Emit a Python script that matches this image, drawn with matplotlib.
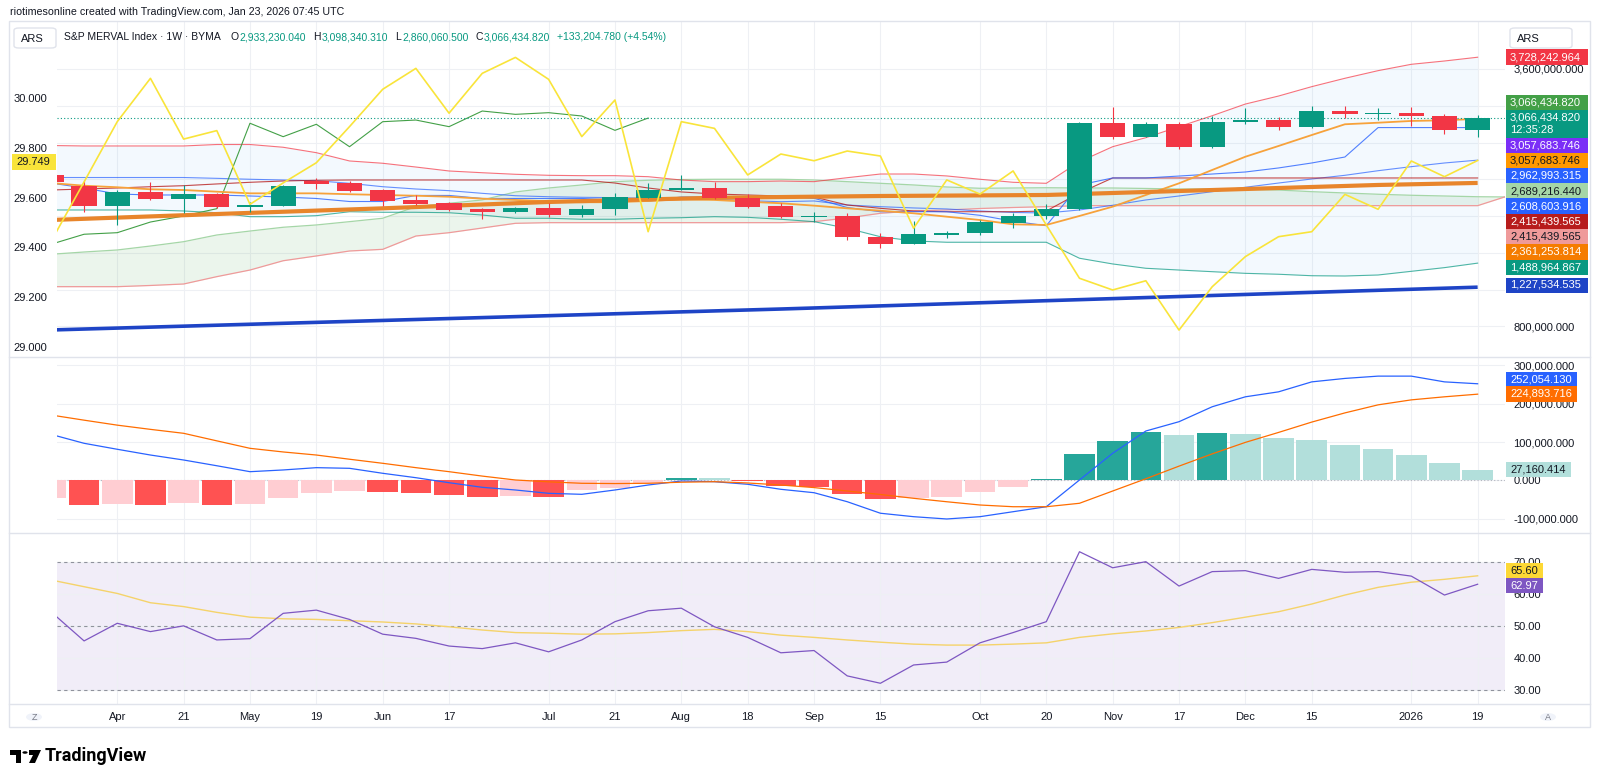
import numpy as np
import matplotlib
matplotlib.use("Agg")
import matplotlib.pyplot as plt
from matplotlib.patches import Rectangle, Polygon, Circle, FancyBboxPatch
from matplotlib.lines import Line2D

W, H = 1600, 783
NARROW = ["Liberation Sans Narrow", "Liberation Sans", "DejaVu Sans"]
plt.rcParams["font.family"] = NARROW
INK = "#131722"
GRID = "#eef0f4"
UP, DOWN = "#089981", "#f23645"

# weekly bars, index 0 = week of 24 Mar 2025 ... index 43 = week of 19 Jan 2026
TIME_TICKS = [2, 4, 6, 8, 10, 12, 15, 17, 19, 21, 23, 25, 28, 30, 32, 34, 36, 38, 41, 43]
TIME_LABELS = ["Apr", "21", "May", "19", "Jun", "17", "Jul", "21", "Aug", "18",
               "Sep", "15", "Oct", "20", "Nov", "17", "Dec", "15", "2026", "19"]

# S&P MERVAL weekly candles, millions of ARS
OPEN = [2.447, 2.331, 2.114, 2.259, 2.186, 2.241, 2.103, 2.114, 2.382, 2.357,
        2.288, 2.172, 2.143, 2.074, 2.048, 2.092, 2.009, 2.078, 2.201, 2.281,
        2.306, 2.201, 2.114, 1.994, 2.005, 1.770, 1.700, 1.798, 1.813, 1.922,
        2.002, 2.074, 3.010, 2.864, 2.999, 2.755, 3.024, 3.045, 2.973, 3.143,
        3.111, 3.125, 3.092, 2.93323]
HIGH = [2.480, 2.393, 2.284, 2.375, 2.339, 2.252, 2.154, 2.339, 2.415, 2.382,
        2.295, 2.230, 2.154, 2.089, 2.103, 2.140, 2.121, 2.248, 2.357, 2.447,
        2.368, 2.241, 2.143, 2.042, 2.034, 1.820, 1.947, 1.838, 1.958, 2.034,
        2.129, 3.027, 3.184, 3.020, 3.027, 3.089, 3.179, 3.078, 3.198, 3.198,
        3.173, 3.190, 3.111, 3.09834]
LOW = [2.339, 2.048, 1.904, 2.176, 2.034, 2.089, 2.045, 2.110, 2.295, 2.263,
       2.114, 2.121, 2.056, 1.969, 2.031, 1.991, 1.994, 2.012, 2.194, 2.281,
       2.186, 2.089, 1.980, 1.940, 1.741, 1.650, 1.700, 1.759, 1.795, 1.868,
       1.969, 2.070, 2.836, 2.857, 2.730, 2.738, 2.999, 2.937, 2.962, 3.067,
       3.045, 2.983, 2.890, 2.86006]
CLOSE = [2.375, 2.114, 2.259, 2.186, 2.238, 2.103, 2.121, 2.328, 2.350, 2.277,
         2.165, 2.132, 2.067, 2.048, 2.092, 2.009, 2.081, 2.211, 2.284, 2.306,
         2.194, 2.103, 1.994, 2.005, 1.770, 1.694, 1.803, 1.820, 1.936, 2.002,
         2.081, 3.010, 2.864, 2.999, 2.755, 3.027, 3.045, 2.973, 3.143, 3.107,
         3.125, 3.089, 2.933, 3.066435]
LAG_SHIFT = 25

# Bollinger bands (millions)
BB_UPPER = [2.768, 2.763, 2.763, 2.763, 2.763, 2.779, 2.779, 2.749, 2.690, 2.600,
            2.575, 2.534, 2.491, 2.472, 2.455, 2.444, 2.440, 2.440, 2.429, 2.393,
            2.375, 2.375, 2.382, 2.375, 2.418, 2.458, 2.458, 2.437, 2.401, 2.368,
            2.357, 2.592, 2.755, 2.853, 2.973, 3.092, 3.219, 3.306, 3.408, 3.499,
            3.582, 3.651, 3.687, 3.728]
BB_BASIS = [2.420, 2.420, 2.420, 2.420, 2.420, 2.411, 2.401, 2.393, 2.385, 2.357,
            2.320, 2.295, 2.277, 2.248, 2.222, 2.211, 2.205, 2.201, 2.194, 2.201,
            2.183, 2.168, 2.157, 2.165, 2.121, 2.103, 2.089, 2.078, 2.056, 2.040,
            2.034, 2.067, 2.118, 2.176, 2.219, 2.266, 2.314, 2.360, 2.404, 2.444,
            2.494, 2.538, 2.578, 2.609]
BB_LOWER = [2.067, 2.067, 2.067, 2.067, 2.056, 2.037, 1.994, 1.994, 2.005, 2.048,
            2.042, 2.042, 2.037, 2.012, 1.977, 1.977, 1.966, 1.966, 1.977, 1.983,
            1.994, 1.987, 1.966, 1.940, 1.868, 1.776, 1.730, 1.716, 1.716, 1.716,
            1.716, 1.542, 1.480, 1.433, 1.414, 1.396, 1.378, 1.368, 1.352, 1.349,
            1.360, 1.400, 1.440, 1.489]

# Ichimoku
TENKAN = [2.360, 2.306, 2.241, 2.230, 2.230, 2.230, 2.219, 2.208, 2.192, 2.159,
          2.159, 2.225, 2.225, 2.192, 2.192, 2.192, 2.192, 2.176, 2.162, 2.208,
          2.208, 2.208, 2.214, 2.194, 2.094, 2.048, 2.048, 2.048, 2.009, 1.945,
          1.896, 2.339, 2.415, 2.415, 2.436, 2.458, 2.480, 2.524, 2.578, 2.643,
          2.963, 2.963, 2.963, 2.963]
KIJUN = [2.284, 2.295, 2.306, 2.320, 2.331, 2.350, 2.368, 2.382, 2.390, 2.393,
         2.393, 2.393, 2.393, 2.393, 2.393, 2.393, 2.393, 2.360, 2.306, 2.263,
         2.241, 2.230, 2.219, 2.208, 2.121, 2.085, 2.056, 2.048, 2.048, 2.048,
         2.056, 2.252, 2.415, 2.415, 2.415, 2.415, 2.415, 2.415, 2.415, 2.415,
         2.415, 2.415, 2.415, 2.415]
SPAN_A = [1.585, 1.610, 1.632, 1.675, 1.722, 1.795, 1.838, 1.879, 1.904, 1.940,
          1.977, 2.103, 2.140, 2.176, 2.263, 2.306, 2.339, 2.375, 2.390, 2.398,
          2.401, 2.401, 2.401, 2.393, 2.375, 2.357, 2.339, 2.317, 2.303, 2.306,
          2.309, 2.306, 2.306, 2.301, 2.295, 2.295, 2.290, 2.284, 2.266, 2.252,
          2.238, 2.227, 2.219, 2.211, 2.208]
SPAN_B = [1.233, 1.233, 1.233, 1.246, 1.262, 1.342, 1.414, 1.515, 1.567, 1.621,
          1.639, 1.784, 1.820, 1.871, 1.922, 1.929, 1.929, 1.929, 1.929, 1.929,
          1.929, 1.929, 1.929, 1.940, 1.980, 2.031, 2.056, 2.067, 2.083, 2.094,
          2.103, 2.114, 2.114, 2.114, 2.114, 2.114, 2.114, 2.114, 2.114, 2.114,
          2.114, 2.114, 2.114, 2.114, 2.230]

# moving averages
MA_FAST = [2.360, 2.331, 2.314, 2.292, 2.284, 2.266, 2.248, 2.248, 2.248, 2.238,
           2.230, 2.222, 2.211, 2.190, 2.176, 2.161, 2.151, 2.151, 2.165, 2.183,
           2.176, 2.157, 2.140, 2.114, 2.085, 2.059, 2.031, 1.994, 1.958, 1.911,
           1.904, 2.002, 2.103, 2.230, 2.357, 2.502, 2.646, 2.763, 2.882, 2.999,
           3.016, 3.035, 3.042, 3.058]
MA_SLOW_X = [0, 5, 10, 15, 20, 25, 30, 35, 40, 43]
MA_SLOW = [1.958, 2.023, 2.085, 2.154, 2.200, 2.219, 2.230, 2.284, 2.339, 2.361]
MA_LONG_X = [0, 22, 43]
MA_LONG = [0.762, 0.990, 1.2275]

# overlay on the left scale
YELLOW = [29.423, 29.663, 29.905, 30.079, 29.835, 29.869, 29.573, 29.659, 29.740, 29.885,
          30.035, 30.119, 29.939, 30.099, 30.163, 30.075, 29.845, 29.992, 29.463, 29.905,
          29.878, 29.691, 29.775, 29.748, 29.787, 29.767, 29.477, 29.671, 29.614, 29.707,
          29.490, 29.276, 29.229, 29.266, 29.068, 29.242, 29.363, 29.443, 29.463, 29.613,
          29.553, 29.747, 29.684, 29.749]
LEFT_TICKS = [29.0, 29.2, 29.4, 29.6, 29.8, 30.0]

# MACD (thousands of ARS)
MACD = [120, 96.6, 81, 66, 53, 38, 22.5, 27, 33, 31.3, 18.3, 6.8, -6.3, -18.3, -25.3,
        -34, -36.6, -25.3, -12.3, -1.8, -3.6, -10.4, -23.5, -32.4, -55.9, -86, -95,
        -101, -95, -82, -69, 0.8, 70.5, 128.7, 153, 192, 218, 231, 257, 266, 272,
        272, 257, 252.054]
SIGNAL = [170.5, 157, 144, 133, 122.7, 103, 83.5, 74, 66, 55, 44.4, 33, 22.5, 11, 0.8,
          -4, -7.8, -8.5, -7.8, -5, -3.6, -7, -12.3, -19, -28, -37, -47, -56, -64.5,
          -69, -69, -60, -28, 4, 37, 69, 99, 125, 152, 176, 197, 210, 218, 224.894]
HIST = [-47, -64.5, -62.7, -64.5, -58.5, -64.5, -62, -47, -34, -28, -29.7, -32.4,
        -38.4, -42.8, -41, -43.5, -25.3, -20.9, -7.8, 6.8, 5.2, -2, -14, -18.3, -36.6,
        -48.8, -47, -44, -29.7, -16.7, 3.4, 69.5, 102.6, 126, 118, 123.5, 121, 109.7,
        104.4, 93, 81, 66, 44.4, 27.16]

# RSI
RSI = [54.4, 45.3, 50.8, 48.2, 50.0, 45.6, 46.0, 53.9, 54.9, 52.0, 47.4, 46.1, 43.7,
       42.9, 44.7, 41.9, 45.6, 51.3, 54.7, 55.5, 49.7, 46.4, 41.6, 42.3, 34.4, 32.1,
       37.8, 38.7, 44.7, 47.9, 51.3, 73.1, 68.1, 70.0, 62.4, 66.9, 67.2, 64.8, 67.6,
       66.7, 66.9, 65.5, 59.6, 62.97]
RSI_MA = [64.3, 62.2, 60.1, 57.2, 56.0, 54.2, 52.7, 52.2, 52.0, 51.6, 51.2, 50.6, 49.7,
          48.7, 47.9, 47.7, 47.4, 47.5, 47.9, 48.5, 48.9, 48.2, 47.1, 46.4, 45.6, 44.9,
          44.3, 44.0, 44.0, 44.3, 44.7, 46.4, 47.5, 48.4, 49.5, 51.0, 52.7, 54.4, 56.8,
          59.6, 62.0, 63.6, 64.5, 65.6]

# price-scale value tags (text, background, text colour)
PRICE_TAGS = [("3,728,242.964", "#f23645", "white"),
              ("3,066,434.820", "#43a047", "white"),
              ("3,066,434.820\n12:35:28", "#089981", "white"),
              ("3,057,683.746", "#7b2ff7", "white"),
              ("3,057,683.746", "#ff9800", INK),
              ("2,962,993.315", "#2962ff", "white"),
              ("2,689,216.440", "#a5d6a7", INK),
              ("2,608,603.916", "#2962ff", "white"),
              ("2,415,439.565", "#b71c1c", "white"),
              ("2,415,439.565", "#ef9a9a", INK),
              ("2,361,253.814", "#f57c00", "white"),
              ("1,488,964.867", "#089981", "white"),
              ("1,227,534.535", "#1e44c6", "white")]
PRICE_TAG_Y = [57, 102.5, 124, 146, 160.7, 176, 191, 206, 221.7, 236.7, 252, 267.3, 285]
MACD_TAGS = [("252,054.130", "#2962ff", "white"), ("224,893.716", "#ff6d00", "white"),
             ("27,160.414", "#b2dfdb", INK)]
MACD_TAG_Y = [379.3, 394, 469.3]
RSI_TAGS = [("65.60", "#fdd835", INK), ("62.97", "#7e57c2", "white")]
RSI_TAG_Y = [570.7, 585.7]

HEADER = [("S&P MERVAL Index · 1W · BYMA", INK, 10), ("O", INK, 0), ("2,933,230.040", UP, 7),
          ("H", INK, 0), ("3,098,340.310", UP, 7), ("L", INK, 0), ("2,860,060.500", UP, 7),
          ("C", INK, 0), ("3,066,434.820", UP, 7), ("+133,204.780 (+4.54%)", UP, 0)]


def box(x0, y0, x1, y1):
    return [x0 / W, 1 - y1 / H, (x1 - x0) / W, (y1 - y0) / H]


def tag(y, text, bg, fg):
    lines = text.split("\n")
    h = 15 * len(lines) - (2 if len(lines) > 1 else 0)
    w = 5.6 * max(len(s) for s in lines) + 9
    fig.add_artist(Rectangle((1506 / W, 1 - (y + h / 2) / H), w / W, h / H,
                             transform=fig.transFigure, facecolor=bg,
                             edgecolor="none", zorder=20))
    fig.text(1510 / W, 1 - y / H, text, color=fg, fontsize=8, va="center",
             ha="left", zorder=21, linespacing=1.25)


fig = plt.figure(figsize=(W / 100, H / 100), dpi=100)
fig.patch.set_facecolor("white")

X0, X1 = 57, 1505
BAR0, BAR_PX = 50.9, 33.18
XLIM = ((X0 - BAR0) / BAR_PX, (X1 - BAR0) / BAR_PX)

ax = fig.add_axes(box(X0, 21, X1, 357))
ax_m = fig.add_axes(box(X0, 357, X1, 533))
ax_r = fig.add_axes(box(X0, 533, X1, 704))
axl = ax.twinx()

for a in (ax, ax_m, ax_r):
    a.set_xlim(*XLIM)
    for s in a.spines.values():
        s.set_visible(False)
    a.set_xticks(TIME_TICKS)
    a.tick_params(length=0, labelsize=8, labelcolor=INK)
    a.yaxis.tick_right()
    a.tick_params(axis="y", pad=6)
    a.grid(True, color=GRID, lw=0.8)
    a.set_axisbelow(True)
ax.set_xticklabels([])
ax_m.set_xticklabels([])
ax_r.set_xticklabels(TIME_LABELS)
ax_r.tick_params(axis="x", pad=6)

idx = np.arange(len(CLOSE))
o, h_, l_, c = map(np.array, (OPEN, HIGH, LOW, CLOSE))

# ---- price pane ----
ax.set_ylim(3.6 - (357 - 69) / 91.96, 3.6 - (21 - 69) / 91.96)
ax.set_yticks([0.8, 1.2, 1.6, 2.0, 2.4, 2.8, 3.2, 3.6])
ax.set_yticklabels(["800,000.000"] + [""] * 6 + ["3,600,000.000"])

ax.fill_between(idx, BB_LOWER, BB_UPPER, color="#2196f3", alpha=0.05, lw=0, zorder=1)
xa = np.arange(len(SPAN_A))
ax.fill_between(xa, SPAN_B, SPAN_A, color="#43a047", alpha=0.10, lw=0, zorder=1)
ax.plot(xa, SPAN_A, color="#a5d6a7", lw=0.9, zorder=2)
ax.plot(xa, SPAN_B, color="#ef9a9a", lw=0.9, zorder=2)
ax.plot(idx, BB_UPPER, color="#f23645", lw=0.8, alpha=0.7, zorder=3)
ax.plot(idx, BB_LOWER, color="#089981", lw=0.8, alpha=0.7, zorder=3)
ax.plot(idx, BB_BASIS, color="#2962ff", lw=0.8, alpha=0.7, zorder=3)
ax.plot(idx, KIJUN, color="#b71c1c", lw=0.8, alpha=0.8, zorder=3)
ax.plot(idx, TENKAN, color="#2962ff", lw=0.8, alpha=0.8, zorder=3)
ax.plot(idx[:-LAG_SHIFT], c[LAG_SHIFT:], color="#43a047", lw=0.8, zorder=3)
ax.plot(idx, MA_FAST, color="#f7a23b", lw=1.3, zorder=3)
ax.plot(MA_SLOW_X, MA_SLOW, color="#e8852b", lw=3.0, zorder=4, solid_capstyle="butt")
ax.plot(MA_LONG_X, MA_LONG, color="#1e44c6", lw=2.6, zorder=4, solid_capstyle="butt")
ax.axhline(c[-1], color=UP, lw=0.8, ls=(0, (1, 2)), zorder=4)

col = np.where(c >= o, UP, DOWN)
ax.vlines(idx, l_, h_, colors=col, lw=0.8, zorder=6)
ax.bar(idx, np.maximum(np.abs(c - o), 0.012), bottom=np.minimum(o, c), width=0.76,
       color=col, zorder=7)

# left scale overlay (twinx moved the main ticks to the left, put them back)
ax.yaxis.tick_right()
ax.tick_params(axis="y", length=0, pad=6, labelsize=8, labelcolor=INK)
axl.set_xlim(*XLIM)
axl.set_ylim(30 - (357 - 98) / 249, 30 - (21 - 98) / 249)
axl.yaxis.tick_left()
axl.set_yticks(LEFT_TICKS)
axl.set_yticklabels([f"{v:.3f}" for v in LEFT_TICKS])
axl.tick_params(length=0, labelsize=8, labelcolor=INK, pad=7)
for s in axl.spines.values():
    s.set_visible(False)
axl.plot(idx, YELLOW, color="#f9e43a", lw=1.2, zorder=5)

# ---- MACD pane ----
ax_m.set_ylim((480.3 - 533) / 38.3 * 100, (480.3 - 357) / 38.3 * 100)
mt = [-100, 0, 100, 200, 300]
ax_m.set_yticks(mt)
ax_m.set_yticklabels([f"{v * 1000:,.3f}" for v in mt])
hist = np.array(HIST)
prev = np.r_[hist[0] - 1, hist[:-1]]
hcol = np.where(hist >= 0, np.where(hist > prev, "#26a69a", "#b2dfdb"),
                np.where(hist > prev, "#ffcdd2", "#ff5252"))
ax_m.bar(idx, hist, width=0.92, color=hcol, zorder=2)
ax_m.axhline(0, color="#b2b5be", lw=0.8, ls=(0, (1, 2)), zorder=1)
ax_m.plot(idx, MACD, color="#2962ff", lw=0.9, zorder=3)
ax_m.plot(idx, SIGNAL, color="#ff6d00", lw=0.9, zorder=3)

# ---- RSI pane ----
ax_r.set_ylim(30 - (704 - 690) / 3.208, 30 + (690 - 533) / 3.208)
rt = [30, 40, 50, 60, 70]
ax_r.set_yticks(rt)
ax_r.set_yticklabels([f"{v:.2f}" for v in rt])
ax_r.axhspan(30, 70, color="#7e57c2", alpha=0.1, lw=0, zorder=0)
for lvl in (30, 50, 70):
    ax_r.axhline(lvl, color="#787b86", lw=0.8, ls=(0, (3, 3)), alpha=0.8, zorder=1)
ax_r.plot(idx, RSI_MA, color="#f5d36a", lw=1.0, zorder=3)
ax_r.plot(idx, RSI, color="#7e57c2", lw=0.9, zorder=4)

# ---- frame, separators ----
fig.add_artist(Rectangle((9 / W, 1 - 727 / H), (1590 - 9) / W, (727 - 21) / H,
                         transform=fig.transFigure, fill=False, ec="#e0e3eb", lw=1, zorder=30))
for yy in (357, 533, 704):
    fig.add_artist(Line2D([9 / W, 1590 / W], [1 - yy / H] * 2, color="#e0e3eb", lw=1,
                          transform=fig.transFigure, zorder=30))

# ---- tags ----
for (t, bg, fg), y in zip(PRICE_TAGS, PRICE_TAG_Y):
    tag(y, t, bg, fg)
for (t, bg, fg), y in zip(MACD_TAGS, MACD_TAG_Y):
    tag(y, t, bg, fg)
for (t, bg, fg), y in zip(RSI_TAGS, RSI_TAG_Y):
    tag(y, t, bg, fg)

fig.add_artist(Rectangle((12 / W, 1 - 169.5 / H), 44 / W, 15 / H, transform=fig.transFigure,
                         facecolor="#f9e43a", edgecolor="none", zorder=20))
fig.text(50 / W, 1 - 162 / H, f"{YELLOW[-1]:.3f}", fontsize=8, color=INK, ha="right",
         va="center", zorder=21)

# currency boxes
for x0, x1 in ((14, 56), (1510, 1572)):
    fig.add_artist(FancyBboxPatch((x0 / W, 1 - 48 / H), (x1 - x0) / W, 20 / H,
                                  boxstyle="round,pad=0,rounding_size=0.003",
                                  transform=fig.transFigure, fc="white", ec="#e0e3eb",
                                  lw=1, zorder=20))
    fig.text((x0 + 7) / W, 1 - 38.5 / H, "ARS", fontsize=8, color=INK, va="center", zorder=21)

# legend line, laid out piece by piece
renderer = fig.canvas.get_renderer()
xpos = 64
for text, color, gap in HEADER:
    t = fig.text(xpos / W, 1 - 37 / H, text, fontsize=7.5, color=color, va="center")
    xpos += t.get_window_extent(renderer).width + (gap if gap else 1)
    if color == UP:
        xpos += 0
fig.text(10 / W, 1 - 12 / H, "riotimesonline created with TradingView.com, Jan 23, 2026 07:45 UTC",
         fontsize=7.7, color=INK, va="center")

# time axis buttons
for x, t in ((34, "Z"), (1548, "A")):
    fig.add_artist(Circle((x / W, 1 - 717 / H), 8 / W, transform=fig.transFigure,
                          fc="#f0f3fa", ec="none", zorder=20))
    fig.text(x / W, 1 - 717 / H, t, fontsize=6.5, color="#787b86", ha="center",
             va="center", zorder=21)


# TradingView wordmark
def fp(pts):
    return [(x / W, 1 - y / H) for x, y in pts]


fig.add_artist(Polygon(fp([(10, 750), (21, 750), (21, 763), (16, 763), (16, 755), (10, 755)]),
                       transform=fig.transFigure, fc="black", ec="none"))
fig.add_artist(Circle((25 / W, 1 - 752.5 / H), 2.6 / W, transform=fig.transFigure, fc="black"))
fig.add_artist(Polygon(fp([(29, 750), (41, 750), (35, 763), (29, 763), (33, 755), (29, 755)]),
                       transform=fig.transFigure, fc="black", ec="none"))
fig.text(45 / W, 1 - 756 / H, "TradingView", fontsize=13, fontweight="bold", color="black",
         va="center", family=["Roboto", "DejaVu Sans"])

fig.savefig("out.png", dpi=100, facecolor="white")
